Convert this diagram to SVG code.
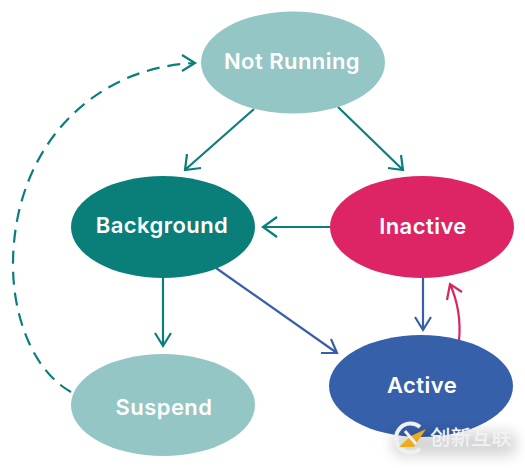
<svg xmlns="http://www.w3.org/2000/svg" width="525" height="468" viewBox="0 0 525 468">
<defs>
<style>
.lbl{font-family:Inter,"Liberation Sans",sans-serif;font-size:22px;font-weight:600;fill:#fff;text-anchor:middle;letter-spacing:.45px}
.c{fill:none;stroke-width:2.2;stroke-linecap:butt;stroke-linejoin:miter}
.t{stroke:#0a7f7a}.b{stroke:#3a5ea8}.r{stroke:#d42663}
</style>
<filter id="wm" x="-20%" y="-40%" width="140%" height="180%"><feGaussianBlur stdDeviation="7"/></filter>
</defs>
<rect width="525" height="468" fill="#fff"/>
<g id="connectors">
<path class="c t" d="M254 109L186 169M187 154L185 170L201 168"/>
<path class="c t" d="M338 107L403 170M388 168L403 170L401 155"/>
<path class="c t" d="M330 227H263M277 217L263 227L277 237"/>
<path class="c t" d="M163 277V345M155 333L163 346L171 333"/>
<path class="c b" d="M216 268L337 353M321 353L337 353L331 339"/>
<path class="c b" d="M423 278V330M415 317L423 330L431 317"/>
<path class="c r" d="M459 341C461 320 458 302 450 284M447 300L450 284L462 292"/>
<path class="c t" stroke-dasharray="13 8" d="M71 392C35 372 13 320 13 265C13 150 90 68 194 63"/>
<path class="c t" d="M182 55L195 63L182 71"/>
</g>
<g id="not-running"><ellipse cx="293" cy="62.500" rx="92" ry="51" fill="#94c6c5"/><text class="lbl" x="292" y="69">Not Running</text></g>
<g id="background"><ellipse cx="163" cy="227" rx="92" ry="51" fill="#0a7f7a"/><text class="lbl" x="162" y="233">Background</text></g>
<g id="inactive"><ellipse cx="422" cy="227" rx="92" ry="51" fill="#dd2566"/><text class="lbl" x="423" y="234">Inactive</text></g>
<g id="suspend"><ellipse cx="163" cy="405" rx="92" ry="51" fill="#94c6c5"/><text class="lbl" x="164" y="415">Suspend</text></g>
<g id="active"><ellipse cx="421" cy="386" rx="92" ry="51" fill="#3760ab"/><text class="lbl" x="422" y="393">Active</text></g>
<g id="watermark">
<rect x="392" y="432" width="125" height="24" rx="10" fill="#000" opacity=".16" filter="url(#wm)"/>
<path d="M420 427A14.500 14.500 0 1 0 420 449" fill="none" stroke="#eef0f4" stroke-width="4"/>
<path d="M399 447L411 436L426 429L414 447Z" fill="#eeac1c"/>
<path d="M405 431L416 444" stroke="#eef0f4" stroke-width="3" fill="none"/>
<text x="430" y="445" font-family="'Noto Sans CJK SC',sans-serif" font-size="20.500" font-weight="500" fill="#f1f2f4">创新互联</text>
</g>
</svg>
